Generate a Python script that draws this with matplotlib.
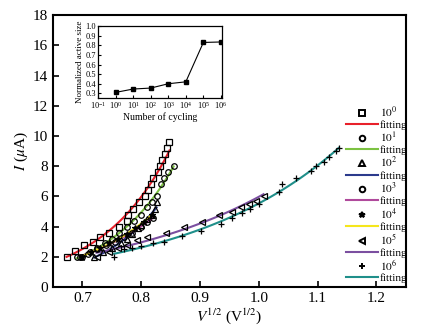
import numpy as np
import matplotlib
matplotlib.use('Agg')
import matplotlib.pyplot as plt
from matplotlib.lines import Line2D

plt.rcParams['font.family'] = ['Liberation Serif', 'DejaVu Serif']
plt.rcParams['mathtext.fontset'] = 'stix'

# --- main panel data: I vs V^1/2 for each cycling count ---
x_1e0 = [0.673, 0.688, 0.703, 0.718, 0.730, 0.745, 0.762, 0.775, 0.777, 0.786,
         0.797, 0.806, 0.812, 0.817, 0.820, 0.828, 0.832, 0.836, 0.840, 0.843, 0.848]
y_1e0 = [2.0, 2.4, 2.8, 3.0, 3.3, 3.6, 4.0, 4.4, 4.8, 5.2,
         5.6, 6.0, 6.4, 6.8, 7.2, 7.6, 8.0, 8.4, 8.8, 9.2, 9.6]

x_1e1 = [0.690, 0.700, 0.712, 0.725, 0.738, 0.750, 0.762, 0.775, 0.787, 0.800,
         0.810, 0.818, 0.826, 0.834, 0.838, 0.846, 0.855]
y_1e1 = [2.0, 2.0, 2.3, 2.6, 2.9, 3.2, 3.6, 4.0, 4.4, 4.8,
         5.3, 5.6, 6.0, 6.8, 7.2, 7.6, 8.0]

x_1e2 = [0.720, 0.735, 0.750, 0.765, 0.775, 0.785, 0.795, 0.800, 0.810, 0.818, 0.823, 0.826]
y_1e2 = [2.0, 2.3, 2.6, 2.9, 3.2, 3.5, 3.9, 4.1, 4.5, 4.8, 5.2, 5.6]

x_1e3 = [0.695, 0.710, 0.725, 0.740, 0.755, 0.770, 0.785, 0.800, 0.810, 0.820]
y_1e3 = [2.0, 2.2, 2.5, 2.8, 3.0, 3.3, 3.6, 4.0, 4.3, 4.6]

x_1e4 = [0.700, 0.715, 0.730, 0.745, 0.760, 0.775, 0.790, 0.805, 0.818]
y_1e4 = [2.0, 2.3, 2.6, 2.9, 3.2, 3.5, 3.9, 4.3, 4.8]

x_1e5 = [0.724, 0.745, 0.760, 0.775, 0.793, 0.810, 0.842, 0.873, 0.903, 0.932,
         0.955, 0.970, 0.983, 0.995, 1.008]
y_1e5 = [2.0, 2.3, 2.6, 2.8, 3.1, 3.3, 3.6, 4.0, 4.3, 4.8,
         5.0, 5.3, 5.5, 5.7, 6.0]

x_1e6 = [0.754, 0.771, 0.785, 0.800, 0.820, 0.839, 0.870, 0.902, 0.935, 0.954,
         0.971, 0.985, 1.000, 1.034, 1.039, 1.064, 1.088, 1.098, 1.110, 1.119,
         1.132, 1.136]
y_1e6 = [2.0, 2.5, 2.6, 2.7, 2.9, 3.0, 3.4, 3.7, 4.2, 4.6,
         4.9, 5.2, 5.5, 6.3, 6.8, 7.2, 7.7, 8.0, 8.3, 8.6,
         9.0, 9.2]

labels = ['$10^0$', '$10^1$', '$10^2$', '$10^3$', '$10^4$', '$10^5$', '$10^6$']
markers = ['s', 'o', '^', 'o', '*', '<', '+']
fit_colors = ['#e8202a', '#7cc242', '#2b3a8c', '#b04a9c', '#f5e61c', '#7b4fa0', '#1f8f8a']

# --- inset data: normalized active size vs number of cycles ---
cycles = [1e0, 1e1, 1e2, 1e3, 1e4, 1e5, 1e6]
active_size = [0.31, 0.345, 0.355, 0.40, 0.42, 0.83, 0.835]

series = [(x_1e0, y_1e0), (x_1e1, y_1e1), (x_1e2, y_1e2), (x_1e3, y_1e3),
          (x_1e4, y_1e4), (x_1e5, y_1e5), (x_1e6, y_1e6)]

fig = plt.figure(figsize=(4.21, 3.35), dpi=100)
ax = fig.add_axes([0.126, 0.143, 0.838, 0.812])

handles = []
for (xs, ys), lab, mk, col in zip(series, labels, markers, fit_colors):
    xs = np.asarray(xs)
    ys = np.asarray(ys)
    # Schottky-type fit: ln(I) linear in V^1/2
    k, b = np.polyfit(xs, np.log(ys), 1)
    xf = np.linspace(xs.min(), xs.max(), 100)
    ax.plot(xf, np.exp(k * xf + b), color=col, lw=1.5, zorder=2)
    filled = mk in ('*', '+')
    ax.plot(xs, ys, linestyle='none', marker=mk, ms=4 if mk != '*' else 5,
            mec='black', mfc='black' if filled else 'none', mew=0.9, zorder=3)
    handles.append(Line2D([], [], linestyle='none', marker=mk, ms=4,
                          mec='black', mfc='black' if filled else 'none',
                          mew=1.4, label=lab))
    handles.append(Line2D([], [], color=col, lw=1.5, label='fitting'))

ax.set_xlim(0.65, 1.25)
ax.set_ylim(0, 18)
ax.set_xticks([0.7, 0.8, 0.9, 1.0, 1.1, 1.2])
ax.set_yticks(range(0, 19, 2))
ax.tick_params(direction='in', labelsize=11, width=1.2, length=4)
for s in ax.spines.values():
    s.set_linewidth(1.5)
ax.set_xlabel('$V^{1/2}$ (V$^{1/2}$)', fontsize=11, labelpad=1)
ax.set_ylabel('$I$ ($\\mu$A)', fontsize=11, labelpad=2)

leg = ax.legend(handles=handles, loc='upper right', bbox_to_anchor=(1.025, 0.695),
                frameon=False, fontsize=8.2, labelspacing=0.03, handlelength=2.8,
                handletextpad=0.15, borderpad=0.1)

# inset
axi = fig.add_axes([0.233, 0.707, 0.295, 0.215])
axi.plot(cycles, active_size, color='black', lw=0.8, marker='s', ms=2.5)
axi.set_xscale('log')
axi.set_xlim(1e-1, 1.2e6)
axi.set_ylim(0.25, 1.0)
axi.set_yticks(np.arange(0.3, 1.01, 0.1))
axi.set_xticks([1e-1, 1e0, 1e1, 1e2, 1e3, 1e4, 1e5, 1e6])
axi.tick_params(direction='in', labelsize=6, width=0.8, length=2, pad=1.5)
axi.tick_params(which='minor', direction='in', length=1)
axi.set_xlabel('Number of cycling', fontsize=7, labelpad=1)
axi.set_ylabel('Normalized active size', fontsize=6.5, labelpad=1)
for s in axi.spines.values():
    s.set_linewidth(0.9)

fig.savefig('out.png', dpi=100)
